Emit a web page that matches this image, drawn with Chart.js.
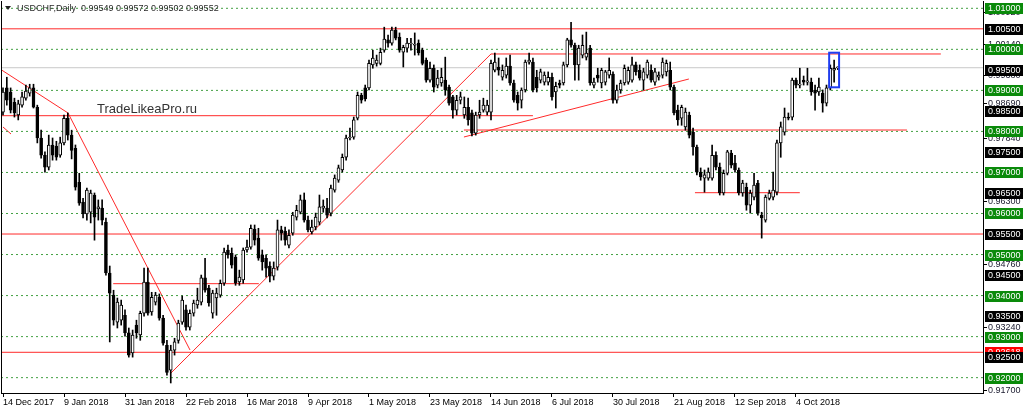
<!DOCTYPE html>
<html>
<head>
<meta charset="utf-8">
<title>USDCHF Daily</title>
<script src="https://cdn.jsdelivr.net/npm/chart.js@4.4.0/dist/chart.umd.min.js"></script>
<style>
  html, body { margin: 0; padding: 0; background: #fff; }
  #wrap { width: 1024px; height: 413px; }
</style>
</head>
<body>
<div id="wrap"><canvas id="priceChart" width="1024" height="413"></canvas></div>
<script>
// USDCHF daily candles, 14 Dec 2017 onwards
var openP = [
  0.9847,0.9906,0.9896,0.9871,0.9840,0.9864,0.9881,0.9893,0.9906,0.9859,
  0.9784,0.9742,0.9713,0.9767,0.9764,0.9742,0.9772,0.9832,0.9791,0.9759,
  0.9676,0.9628,0.9599,0.9603,0.9645,0.9611,0.9613,0.9579,0.9455,0.9401,
  0.9335,0.9340,0.9352,0.9309,0.9260,0.9328,0.9304,0.9357,0.9433,0.9360,
  0.9384,0.9396,0.9345,0.9279,0.9218,0.9267,0.9291,0.9335,0.9365,0.9323,
  0.9357,0.9377,0.9384,0.9443,0.9418,0.9357,0.9394,0.9401,0.9430,0.9511,
  0.9503,0.9494,0.9433,0.9438,0.9511,0.9518,0.9562,0.9540,0.9499,0.9491,
  0.9472,0.9447,0.9469,0.9560,0.9557,0.9523,0.9552,0.9591,0.9603,0.9633,
  0.9584,0.9555,0.9567,0.9579,0.9613,0.9613,0.9601,0.9657,0.9681,0.9706,
  0.9737,0.9784,0.9786,0.9832,0.9888,0.9906,0.9906,0.9962,0.9966,0.9966,
  0.9998,1.0023,1.0015,1.0047,1.0030,0.9993,1.0003,1.0013,1.0010,1.0015,
  0.9998,0.9974,0.9925,0.9954,0.9913,0.9918,0.9925,0.9908,0.9884,0.9852,
  0.9876,0.9840,0.9859,0.9845,0.9796,0.9840,0.9852,0.9847,0.9847,0.9949,
  0.9957,0.9932,0.9937,0.9959,0.9918,0.9888,0.9876,0.9901,0.9969,0.9969,
  0.9932,0.9925,0.9920,0.9920,0.9932,0.9896,0.9918,0.9918,0.9962,1.0023,
  1.0010,0.9962,0.9986,0.9981,1.0003,0.9913,0.9937,0.9918,0.9920,0.9937,
  0.9940,0.9876,0.9901,0.9918,0.9920,0.9925,0.9962,0.9949,0.9925,0.9937,
  0.9949,0.9920,0.9932,0.9937,0.9945,0.9949,0.9908,0.9852,0.9832,0.9811,
  0.9840,0.9798,0.9762,0.9701,0.9686,0.9686,0.9686,0.9742,0.9713,0.9650,
  0.9698,0.9747,0.9723,0.9706,0.9650,0.9664,0.9620,0.9640,0.9674,0.9596,
  0.9584,0.9637,0.9640,0.9652,0.9772,0.9798,0.9835,0.9835,0.9925,0.9913,
  0.9925,0.9920,0.9920,0.9901,0.9896,0.9893,0.9869,0.9906,0.9949,0.99549
];
var highP = [
  0.9906,0.9932,0.9906,0.9881,0.9876,0.9896,0.9913,0.9915,0.9915,0.9864,
  0.9803,0.9750,0.9791,0.9784,0.9776,0.9786,0.9840,0.9845,0.9803,0.9767,
  0.9698,0.9637,0.9662,0.9657,0.9650,0.9633,0.9633,0.9589,0.9472,0.9413,
  0.9394,0.9389,0.9365,0.9321,0.9316,0.9340,0.9362,0.9467,0.9467,0.9408,
  0.9408,0.9404,0.9352,0.9291,0.9279,0.9296,0.9340,0.9399,0.9377,0.9365,
  0.9389,0.9418,0.9450,0.9491,0.9425,0.9413,0.9418,0.9438,0.9516,0.9523,
  0.9516,0.9499,0.9462,0.9516,0.9535,0.9572,0.9572,0.9564,0.9511,0.9499,
  0.9482,0.9482,0.9584,0.9569,0.9567,0.9560,0.9603,0.9620,0.9645,0.9650,
  0.9594,0.9584,0.9601,0.9645,0.9633,0.9637,0.9669,0.9694,0.9718,0.9745,
  0.9791,0.9808,0.9835,0.9896,0.9893,0.9913,0.9974,0.9998,0.9986,1.0003,
  1.0054,1.0035,1.0054,1.0054,1.0040,1.0010,1.0027,1.0027,1.0040,1.0023,
  1.0003,0.9979,0.9969,0.9962,0.9949,0.9954,0.9981,0.9913,0.9888,0.9888,
  0.9896,0.9884,0.9881,0.9852,0.9847,0.9876,0.9881,0.9876,0.9974,0.9991,
  0.9979,0.9962,0.9979,0.9986,0.9925,0.9896,0.9906,0.9974,0.9991,0.9979,
  0.9949,0.9952,0.9945,0.9945,0.9942,0.9920,0.9925,0.9969,1.0027,1.0066,
  1.0015,1.0010,1.0035,1.0042,1.0010,0.9930,0.9954,0.9954,0.9949,0.9979,
  0.9945,0.9913,0.9925,0.9962,0.9957,0.9981,0.9969,0.9962,0.9954,0.9974,
  0.9962,0.9954,0.9945,0.9979,0.9974,0.9969,0.9913,0.9864,0.9864,0.9857,
  0.9847,0.9808,0.9767,0.9711,0.9706,0.9711,0.9767,0.9750,0.9723,0.9706,
  0.9754,0.9754,0.9742,0.9711,0.9681,0.9674,0.9657,0.9698,0.9681,0.9603,
  0.9645,0.9657,0.9701,0.9779,0.9823,0.9857,0.9845,0.9930,0.9930,0.9954,
  0.9935,0.9954,0.9930,0.9913,0.9930,0.9901,0.9913,0.9962,0.9974,0.99572
];
var lowP = [
  0.9840,0.9864,0.9845,0.9835,0.9828,0.9859,0.9876,0.9886,0.9857,0.9772,
  0.9735,0.9701,0.9706,0.9730,0.9730,0.9737,0.9767,0.9779,0.9733,0.9657,
  0.9620,0.9589,0.9584,0.9577,0.9535,0.9584,0.9572,0.9450,0.9287,0.9328,
  0.9321,0.9328,0.9301,0.9250,0.9250,0.9296,0.9291,0.9350,0.9352,0.9352,
  0.9377,0.9340,0.9279,0.9206,0.9187,0.9255,0.9284,0.9330,0.9316,0.9316,
  0.9350,0.9369,0.9377,0.9408,0.9374,0.9345,0.9352,0.9396,0.9425,0.9491,
  0.9467,0.9425,0.9425,0.9430,0.9506,0.9513,0.9523,0.9486,0.9462,0.9445,
  0.9433,0.9438,0.9462,0.9535,0.9523,0.9516,0.9547,0.9584,0.9599,0.9579,
  0.9555,0.9550,0.9560,0.9572,0.9603,0.9589,0.9594,0.9652,0.9676,0.9701,
  0.9730,0.9779,0.9781,0.9828,0.9869,0.9874,0.9901,0.9954,0.9959,0.9962,
  0.9993,1.0005,1.0010,1.0023,0.9993,0.9957,0.9993,0.9998,0.9986,0.9986,
  0.9962,0.9920,0.9920,0.9896,0.9906,0.9910,0.9888,0.9864,0.9832,0.9840,
  0.9867,0.9832,0.9815,0.9789,0.9791,0.9832,0.9847,0.9840,0.9828,0.9945,
  0.9937,0.9925,0.9930,0.9913,0.9871,0.9852,0.9857,0.9896,0.9964,0.9896,
  0.9896,0.9918,0.9913,0.9913,0.9876,0.9857,0.9906,0.9913,0.9957,1.0005,
  0.9925,0.9925,0.9979,0.9974,0.9913,0.9906,0.9920,0.9906,0.9913,0.9930,
  0.9869,0.9869,0.9893,0.9913,0.9915,0.9920,0.9937,0.9925,0.9901,0.9930,
  0.9920,0.9913,0.9925,0.9930,0.9935,0.9901,0.9840,0.9815,0.9815,0.9803,
  0.9784,0.9742,0.9694,0.9681,0.9652,0.9681,0.9681,0.9706,0.9645,0.9645,
  0.9694,0.9711,0.9701,0.9645,0.9642,0.9608,0.9601,0.9633,0.9596,0.9540,
  0.9579,0.9633,0.9633,0.9645,0.9737,0.9791,0.9828,0.9828,0.9906,0.9906,
  0.9913,0.9913,0.9888,0.9852,0.9888,0.9847,0.9862,0.9901,0.9920,0.99502
];
var closeP = [
  0.9896,0.9876,0.9852,0.9845,0.9867,0.9884,0.9898,0.9906,0.9859,0.9784,
  0.9742,0.9713,0.9767,0.9742,0.9737,0.9772,0.9832,0.9791,0.9754,0.9664,
  0.9625,0.9599,0.9657,0.9650,0.9591,0.9616,0.9584,0.9455,0.9406,0.9340,
  0.9384,0.9377,0.9309,0.9255,0.9304,0.9309,0.9357,0.9433,0.9357,0.9396,
  0.9401,0.9345,0.9284,0.9213,0.9267,0.9287,0.9333,0.9389,0.9323,0.9357,
  0.9382,0.9389,0.9443,0.9413,0.9382,0.9406,0.9406,0.9430,0.9506,0.9499,
  0.9474,0.9430,0.9445,0.9511,0.9518,0.9564,0.9535,0.9491,0.9482,0.9467,
  0.9447,0.9467,0.9560,0.9552,0.9535,0.9547,0.9596,0.9608,0.9633,0.9584,
  0.9560,0.9567,0.9591,0.9616,0.9618,0.9596,0.9662,0.9686,0.9711,0.9737,
  0.9784,0.9786,0.9828,0.9888,0.9876,0.9879,0.9966,0.9979,0.9974,0.9993,
  1.0025,1.0015,1.0047,1.0027,0.9998,1.0005,1.0015,1.0015,1.0011,0.9991,
  0.9966,0.9925,0.9954,0.9908,0.9930,0.9932,0.9901,0.9869,0.9852,0.9876,
  0.9884,0.9859,0.9828,0.9796,0.9840,0.9847,0.9864,0.9864,0.9966,0.9969,
  0.9949,0.9949,0.9959,0.9918,0.9876,0.9869,0.9901,0.9969,0.9974,0.9901,
  0.9906,0.9945,0.9937,0.9932,0.9884,0.9910,0.9913,0.9962,1.0023,1.0010,
  0.9962,1.0003,1.0010,0.9991,0.9918,0.9920,0.9930,0.9949,0.9945,0.9949,
  0.9876,0.9901,0.9918,0.9954,0.9949,0.9962,0.9945,0.9930,0.9945,0.9969,
  0.9925,0.9945,0.9937,0.9969,0.9966,0.9908,0.9845,0.9828,0.9859,0.9847,
  0.9791,0.9762,0.9701,0.9689,0.9694,0.9701,0.9742,0.9713,0.9650,0.9698,
  0.9750,0.9718,0.9706,0.9650,0.9674,0.9620,0.9650,0.9669,0.9601,0.9589,
  0.9640,0.9650,0.9657,0.9772,0.9811,0.9835,0.9832,0.9925,0.9913,0.9915,
  0.9920,0.9923,0.9896,0.9893,0.9908,0.9869,0.9906,0.9954,0.9954,0.99552
];

// bottom axis
var tickLabels = ['14 Dec 2017', '9 Jan 2018', '31 Jan 2018', '22 Feb 2018', '16 Mar 2018',
  '9 Apr 2018', '1 May 2018', '23 May 2018', '14 Jun 2018', '6 Jul 2018', '30 Jul 2018',
  '21 Aug 2018', '12 Sep 2018', '4 Oct 2018'];
var holidays = ['25 Dec 2017', '1 Jan 2018'];
var monthNames = ['Jan','Feb','Mar','Apr','May','Jun','Jul','Aug','Sep','Oct','Nov','Dec'];
var slotCount = 258; // bars + empty shift on the right

// trading days (no weekends, no Christmas / New Year bar)
var dates = [];
var day = new Date(2017, 11, 14);
while (dates.length < slotCount) {
  var label = day.getDate() + ' ' + monthNames[day.getMonth()] + ' ' + day.getFullYear();
  if (day.getDay() != 0 && day.getDay() != 6 && holidays.indexOf(label) < 0) dates.push(label);
  day.setDate(day.getDate() + 1);
}
var tickPos = tickLabels.map(function (t) { return dates.indexOf(t); });

// horizontal levels and drawn objects (bar index, price)
var gridLevels = [1.01, 1.00, 0.99, 0.98, 0.97, 0.96, 0.95, 0.94, 0.93, 0.92];
var redLevels = [1.0050, 0.9550, 0.92618];
var bidLevel = 0.99552;
var levelSegs = [      // from bar, to bar, price
  [128.0, 246.0, 0.99887],
  [-0.525, 139.0, 0.98383],
  [120.9, 237.1, 0.98034],
  [181.5, 209.0, 0.96507],
  [28.9, 67.1, 0.94290]
];
var trendLines = [     // bar, price, bar, price
  [-0.525, 0.99506, 17.05, 0.98449],
  [17.05, 0.98449, 49.05, 0.92674],
  [0, 0.98108, 2.1, 0.97937],
  [43.8, 0.92089, 128.0, 0.99887],
  [120.9, 0.97864, 179.9, 0.99277]
];
var signalBox = [216.7, 219.3, 0.99075, 0.99918];

// right axis price tags
var greenTags = gridLevels;
var blackTags = [1.005, 0.995, 0.985, 0.975, 0.965, 0.955, 0.945, 0.935, 0.925];
var redTags = [0.92618];
var plainTags = [1.0092, 1.0014, 0.9869, 0.9938, 0.9784, 0.9630, 0.9476, 0.9324, 0.9170];

var header = 'USDCHF,Daily  0.99549 0.99572 0.99502 0.99552';
var watermark = 'TradeLikeaPro.ru';

var xMin = -0.525, xMax = 257.05;

function hLine(p, color, dash) {
  return {
    type: 'line', order: 3,
    data: [{ x: xMin, y: p }, { x: xMax, y: p }],
    borderColor: color, borderWidth: 1, borderDash: dash || [],
    pointRadius: 0, fill: false
  };
}

var lineSets = [];
gridLevels.forEach(function (p) { lineSets.push(hLine(p, '#43a043', [2, 3])); });
lineSets.push(hLine(bidLevel, '#c8c8c8'));
redLevels.forEach(function (p) { lineSets.push(hLine(p, '#ff2a2a')); });
levelSegs.forEach(function (s) {
  lineSets.push({ type: 'line', order: 3, data: [{ x: s[0], y: s[2] }, { x: s[1], y: s[2] }],
    borderColor: '#ff2a2a', borderWidth: 1, pointRadius: 0, fill: false });
});
trendLines.forEach(function (t) {
  lineSets.push({ type: 'line', order: 3, data: [{ x: t[0], y: t[1] }, { x: t[2], y: t[3] }],
    borderColor: '#ff2a2a', borderWidth: 1, pointRadius: 0, fill: false });
});

function priceTag(ctx, yPix, text, bg, left) {
  if (bg) {
    ctx.fillStyle = bg;
    ctx.fillRect(left + 2, Math.round(yPix) - 5, 38, 11);
    ctx.fillStyle = '#fff';
  } else {
    ctx.fillStyle = '#000';
    ctx.fillRect(left, Math.round(yPix), 4, 1);
    ctx.fillStyle = '#1a1a2e';
  }
  ctx.fillText(text, left + 5, yPix + 0.5);
}

var mtDecor = {
  id: 'mtDecor',
  afterDatasetsDraw: function (chart) {
    var ctx = chart.ctx, xs = chart.scales.x, ys = chart.scales.y, a = chart.chartArea;
    ctx.save();
    // left frame
    ctx.strokeStyle = '#000';
    ctx.lineWidth = 1;
    ctx.beginPath();
    ctx.moveTo(a.left + 0.5, a.top);
    ctx.lineTo(a.left + 0.5, a.bottom);
    ctx.stroke();

    // blue box on the last bars
    var bx0 = xs.getPixelForValue(signalBox[0]), bx1 = xs.getPixelForValue(signalBox[1]);
    var by0 = ys.getPixelForValue(signalBox[3]), by1 = ys.getPixelForValue(signalBox[2]);
    ctx.strokeStyle = '#1f3df2';
    ctx.lineWidth = 2;
    ctx.strokeRect(bx0, by0, bx1 - bx0, by1 - by0);

    // header line
    ctx.fillStyle = '#222';
    ctx.beginPath();
    ctx.moveTo(a.left + 4, 6); ctx.lineTo(a.left + 10, 6); ctx.lineTo(a.left + 7, 10);
    ctx.closePath(); ctx.fill();
    ctx.font = '9px "Liberation Sans", Arial, sans-serif';
    ctx.textBaseline = 'middle';
    ctx.fillStyle = '#2a2a2a';
    ctx.fillText(header, a.left + 16, 8.5);

    // watermark
    ctx.font = '13px "Liberation Sans", Arial, sans-serif';
    ctx.fillStyle = '#333';
    ctx.textBaseline = 'alphabetic';
    ctx.fillText(watermark, 97, 112.5);
    ctx.restore();
  },
  afterDraw: function (chart) {
    var ctx = chart.ctx, ys = chart.scales.y, left = chart.chartArea.right;
    ctx.save();
    ctx.font = '9px "Liberation Sans", Arial, sans-serif';
    ctx.textBaseline = 'middle';
    plainTags.forEach(function (p) { priceTag(ctx, ys.getPixelForValue(p), p.toFixed(5), null, left); });
    redTags.forEach(function (p) { priceTag(ctx, ys.getPixelForValue(p), p.toFixed(5), '#ff0000', left); });
    greenTags.forEach(function (p) { priceTag(ctx, ys.getPixelForValue(p), p.toFixed(5), '#0a8a0a', left); });
    blackTags.forEach(function (p) { priceTag(ctx, ys.getPixelForValue(p), p.toFixed(5), '#000', left); });
    ctx.restore();
  }
};

var bodies = openP.map(function (o, i) { return { x: i, y: [o, closeP[i]] }; });
var wicks = lowP.map(function (l, i) { return { x: i, y: [l, highP[i]] }; });

var priceCtx = document.getElementById('priceChart').getContext('2d');
var priceChart = new Chart(priceCtx, {
  type: 'bar',
  data: {
    datasets: [{
      label: 'body',
      order: 1,
      data: bodies,
      grouped: false,
      barThickness: 3,
      minBarLength: 1,
      borderWidth: 1,
      borderSkipped: false,
      borderColor: '#000',
      backgroundColor: function (c) {
        var i = c.dataIndex;
        return closeP[i] >= openP[i] ? '#fff' : '#000';
      }
    }, {
      label: 'wick',
      order: 2,
      data: wicks,
      grouped: false,
      barThickness: 1,
      borderWidth: 0,
      backgroundColor: '#000'
    }].concat(lineSets)
  },
  options: {
    responsive: false,
    animation: false,
    devicePixelRatio: 1,
    layout: { padding: { left: 1, top: 1, right: 0, bottom: 0 } },
    plugins: { legend: { display: false }, tooltip: { enabled: false } },
    scales: {
      x: {
        type: 'linear',
        min: xMin,
        max: xMax,
        offset: false,
        grid: { display: true, drawOnChartArea: false, drawTicks: true, tickLength: 4, color: '#000', offset: false },
        border: { display: true, color: '#000' },
        afterBuildTicks: function (s) {
          s.ticks = tickPos.map(function (v) { return { value: v }; });
        },
        afterFit: function (s) { s.height = 20; },
        ticks: {
          autoSkip: false,
          maxRotation: 0,
          align: 'start',
          padding: 0,
          color: '#000',
          font: { family: 'Liberation Sans', size: 9 },
          callback: function (v) { return dates[v]; }
        }
      },
      y: {
        type: 'linear',
        position: 'right',
        min: 0.91626,
        max: 1.01178,
        beginAtZero: false,
        grid: { display: false },
        border: { display: true, color: '#000' },
        ticks: { display: false },
        afterFit: function (s) { s.width = 41; }
      }
    }
  },
  plugins: [mtDecor]
});
</script>
</body>
</html>
